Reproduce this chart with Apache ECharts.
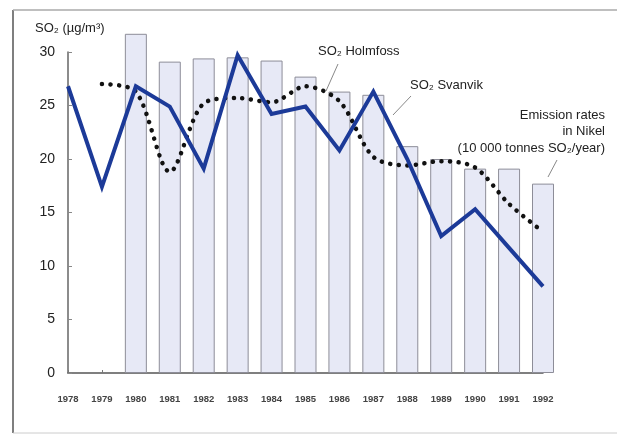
<!DOCTYPE html>
<html>
<head>
<meta charset="utf-8">
<script src="https://cdn.jsdelivr.net/npm/echarts@6/dist/echarts.min.js"></script>
<style>
html,body{margin:0;padding:0;background:#fff;}
#chart{width:617px;height:437px;}
</style>
</head>
<body>
<div id="chart"></div>
<script>
var years = [1978,1979,1980,1981,1982,1983,1984,1985,1986,1987,1988,1989,1990,1991,1992];
var emissionYears = [1980,1981,1982,1983,1984,1985,1986,1987,1988,1989,1990,1991,1992];
var emissionValues = [31.7,29.1,29.4,29.5,29.2,27.7,26.3,26.0,21.2,20.0,19.1,19.1,17.7];
var svanvikValues = [26.8,17.4,26.8,24.9,19.1,29.7,24.2,24.9,20.8,26.3,20.0,12.8,15.3,11.7,8.1];
var holmfossYears = [1979,1980,1981,1982,1983,1984,1985,1986,1987,1988,1989,1990,1991,1992];
var holmfossValues = [27.0,26.3,18.8,25.2,25.7,25.3,26.8,25.4,20.2,19.4,19.8,19.2,15.8,13.2];
var yTicks = [0,5,10,15,20,25,30];

var chart = echarts.init(document.getElementById('chart'));
var font = 'Liberation Sans, Arial, sans-serif';
chart.setOption({
  animation: false,
  backgroundColor: '#fff',
  grid: {left: 68, right: 74, top: 52, bottom: 64},
  xAxis: {
    type: 'value', min: 1978, max: 1992, interval: 1,
    axisLine: {show: true, lineStyle: {color: '#555', width: 1.5}},
    axisTick: {show: true, length: 3, inside: true, lineStyle: {color: '#777'}},
    splitLine: {show: false},
    axisLabel: {margin: 21, fontSize: 9.5, fontWeight: 'bold', color: '#444', fontFamily: font,
      formatter: function(v){ return String(v); }}
  },
  yAxis: {
    type: 'value', min: 0, max: 30, interval: 5,
    axisLine: {show: true, lineStyle: {color: '#666', width: 1.5}},
    axisTick: {show: true, length: 4, inside: true, lineStyle: {color: '#888'}},
    splitLine: {show: false},
    axisLabel: {margin: 13, fontSize: 14, color: '#222', fontFamily: font}
  },
  series: [
    {
      type: 'bar', clip: false, barWidth: 22,
      data: emissionYears.map(function(y,i){ return [y, emissionValues[i]]; }),
      itemStyle: {color: '#e7e9f6', borderColor: '#8d8d98', borderWidth: 1},
      z: 1
    },
    {
      type: 'line', smooth: 0.3, showSymbol: false, clip: false,
      data: holmfossYears.map(function(y,i){ return [y, holmfossValues[i]]; }),
      lineStyle: {color: '#111', width: 4.5, type: [0.1, 8.5], cap: 'round'},
      z: 3
    },
    {
      type: 'line', showSymbol: false, clip: false,
      data: years.map(function(y,i){ return [y, svanvikValues[i]]; }),
      lineStyle: {color: '#1c3a98', width: 4, join: 'miter'},
      z: 4
    }
  ],
  graphic: [
    {type: 'line', shape: {x1: 13, y1: 10, x2: 13, y2: 433}, style: {stroke: '#555', lineWidth: 1.5}},
    {type: 'line', shape: {x1: 13, y1: 10, x2: 617, y2: 10}, style: {stroke: '#aaa', lineWidth: 1.5}},
    {type: 'line', shape: {x1: 13, y1: 433, x2: 617, y2: 433}, style: {stroke: '#ccc', lineWidth: 1}},
    {type: 'text', left: 35, top: 22, style: {text: 'SO₂ (µg/m³)', font: '13px ' + font, fill: '#222'}},
    {type: 'text', left: 318, top: 45, style: {text: 'SO₂ Holmfoss', font: '13px ' + font, fill: '#222'}},
    {type: 'line', shape: {x1: 338, y1: 64, x2: 326, y2: 91}, style: {stroke: '#888', lineWidth: 1}},
    {type: 'text', left: 410, top: 79, style: {text: 'SO₂ Svanvik', font: '13px ' + font, fill: '#222'}},
    {type: 'line', shape: {x1: 411, y1: 96, x2: 393, y2: 115}, style: {stroke: '#888', lineWidth: 1}},
    {type: 'text', right: 12, top: 107, style: {text: 'Emission rates\nin Nikel\n(10 000 tonnes SO₂/year)', font: '13px ' + font, fill: '#222', textAlign: 'right', lineHeight: 16.5}},
    {type: 'line', shape: {x1: 557, y1: 160, x2: 548, y2: 177}, style: {stroke: '#888', lineWidth: 1}}
  ]
});
</script>
</body>
</html>
